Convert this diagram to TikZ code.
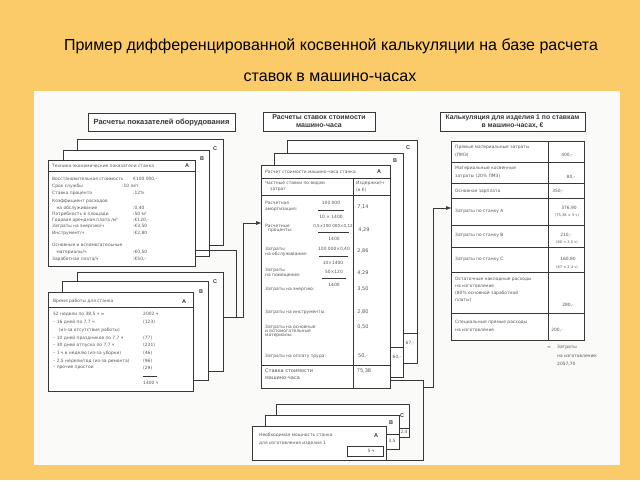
\documentclass[tikz,border=0pt]{standalone}
\usepackage{fontspec}
\setmainfont{Liberation Sans}
\newfontfamily\scanfont{DejaVu Sans}
\usetikzlibrary{arrows.meta}
\definecolor{bgor}{RGB}{251,203,106}
\definecolor{paper}{RGB}{250,250,248}
\definecolor{ink}{RGB}{55,55,55}
\definecolor{txt}{RGB}{85,85,85}
\newcommand{\myfs}[1]{\fontsize{#1}{#1}\selectfont}
\begin{document}
\begin{tikzpicture}[x=1pt,y=-1pt,
  card/.style={draw=ink, fill=white, line width=0.55pt, anchor=north west, inner sep=0pt, outer sep=0pt},
  tl/.style={anchor=west, inner sep=0pt, text=txt, font=\scanfont\myfs{4.4}},
  tm/.style={anchor=center, inner sep=0pt, text=txt, font=\scanfont\myfs{4.4}},
  big/.style={font=\scanfont\myfs{5}},
  lbl/.style={anchor=center, inner sep=0pt, font=\bfseries\myfs{5.5}, text=ink},
  hbox/.style={draw=ink, fill=white, line width=0.55pt, inner sep=0pt, outer sep=0pt, anchor=north west, align=center, font=\bfseries\fontsize{6.8}{8}\selectfont, text=ink},
  rule/.style={draw=ink, line width=0.5pt},
  wire/.style={draw=ink, line width=0.55pt},
  arr/.style={wire, -{Triangle[length=5pt,width=3.6pt]}}
]
\useasboundingbox (0,0) rectangle (640,480);
\fill[bgor] (0,0) rectangle (640,480);
\fill[paper] (34,91) rectangle (620,465);

% title
\node[font=\myfs{16}, inner sep=0pt] (title1) at (331,46) {Пример дифференцированной косвенной калькуляции на базе расчета};
\node[font=\myfs{16}, inner sep=0pt] (title2) at (330,77) {ставок в машино-часах};

% header boxes
\node[hbox, minimum width=147pt, minimum height=18pt, font=\bfseries\myfs{7.5}] (h1) at (88,113) {Расчеты показателей оборудования};
\node[hbox, minimum width=112pt, minimum height=19pt, font=\bfseries\fontsize{7}{8}\selectfont] (h2) at (263,112) {Расчеты ставок стоимости\\машино-часа};
\node[hbox, minimum width=145pt, minimum height=19pt] (h3) at (440,112) {Калькуляция для изделия 1 по ставкам\\в машино-часах, €};

% ---------- stack 1 ----------
\node[card, minimum width=146pt, minimum height=106pt] (s1c) at (77,139) {};
\node[lbl] (s1cl) at (215,149) {C};
\node[card, minimum width=146pt, minimum height=106pt] (s1b) at (63,150) {};
\node[lbl] (s1bl) at (202,159) {B};
\node[card, minimum width=147pt, minimum height=106pt] (s1a) at (48,160) {};
\node[lbl] (s1al) at (187,166) {A};
\draw[rule] (48,171) -- (195,171);
\node[tl] (s1h) at (52,166) {Технико-экономические показатели станка};
\foreach \y/\l/\x/\v [count=\i] in {
  179/{Восстановительная стоимость}/133/{€100 000,-},
  186/{Срок службы}/122/{:10 лет},
  193/{Ставка процента}/133/{:12\%},
  201/{Коэффициент расходов}/133/{},
  208/{\quad на обслуживание}/133/{:0,40},
  214/{Потребность в площади}/133/{:50 м²},
  220/{Годовая арендная плата /м²}/133/{:€120,-},
  226/{Затраты на энергию/ч}/133/{:€3,50},
  233/{Инструмент/ч}/133/{:€2,80},
  245/{Основные и вспомогательные}/133/{},
  252/{\quad материалы/ч}/133/{:€0,50},
  259/{Заработная плата/ч}/133/{:€50,-}}
{
  \node[tl] (s1l\i) at (52,\y) {\l};
  \node[tl] (s1v\i) at (\x,\y) {\v};
}

% ---------- stack 2 ----------
\node[card, minimum width=146pt, minimum height=99pt] (s2c) at (77,272) {};
\node[lbl] (s2cl) at (215,282) {C};
\node[card, minimum width=146pt, minimum height=99pt] (s2b) at (62,281) {};
\node[lbl] (s2bl) at (201,292) {B};
\node[card, minimum width=145pt, minimum height=99pt] (s2a) at (48,292) {};
\node[lbl] (s2al) at (184,302) {A};
\draw[rule] (48,307) -- (193,307);
\node[tl] (s2h) at (53,301) {Время работы для станка};
\foreach \y/\l/\v [count=\i] in {
  314/{52 недели по 38,5 ч =}/{2002 ч},
  322/{–\ 16 дней по 7,7 ч}/{(123)},
  330/{\quad\ (из-за отсутствия работы)}/{},
  338/{–\ 10 дней праздников по 7,7 ч}/{(77)},
  345/{–\ 30 дней отпуска по 7,7 ч}/{(231)},
  353/{–\ 1 ч в неделю (из-за уборки)}/{(46)},
  361/{–\ 2,5 недели/год (из-за ремонта)}/{(96)},
  368/{–\ прочие простои}/{(29)}}
{
  \node[tl] (s2l\i) at (53,\y) {\l};
  \node[tl] (s2v\i) at (143,\y) {\v};
}
\draw[rule] (143,376) -- (157,376);
\node[tl] (s2tot) at (143,383) {1400 ч};

% ---------- middle stack ----------
\node[card, minimum width=130pt, minimum height=223pt] (mc) at (287,140) {};
\node[lbl] (mcl) at (408,148) {C};
\draw[rule] (403,333) -- (417,333);
\node[tm] (mc67) at (410,343) {67,-};
\node[card, minimum width=129pt, minimum height=224pt] (mb) at (274,153) {};
\node[lbl] (mbl) at (395,161) {B};
\draw[rule] (390,347) -- (403,347);
\node[tm] (mb60) at (397,357) {60,-};
\node[card, minimum width=129pt, minimum height=223pt] (ma) at (261,165) {};
\node[lbl] (mal) at (379,172) {A};
\node[tl] (mah) at (265,172) {Расчет стоимости машино-часа станка};
\draw[rule] (261,178) -- (390,178);
\draw[rule] (261,195) -- (390,195);
\draw[rule] (353,178) -- (353,388);
\draw[rule] (261,365) -- (390,365);
\node[tl] (mch1) at (265,183) {Частные ставки по видам};
\node[tl] (mch2) at (270,190) {затрат};
\node[tl] (mch3) at (356,183) {Издержки/ч};
\node[tl] (mch4) at (356,190) {(в €)};
% rows
\node[tl] (r1a) at (265,203) {Расчетная};
\node[tl] (r1b) at (265,210) {амортизация:};
\node[tm] (r1n) at (331,203) {100 000};
\draw[rule] (318,210) -- (344,210);
\node[tm] (r1d) at (331,217) {10 × 1400};
\node[tm, big] (r1v) at (363,207) {7,14};
\node[tl] (r2a) at (265,226) {Расчетные};
\node[tl] (r2b) at (268,231) {проценты:};
\node[tm, font=\scanfont\myfs{4.1}] (r2n) at (333,226) {0,5×100 000×0,12};
\draw[rule] (318,232) -- (349,232);
\node[tm] (r2d) at (334,239) {1400};
\node[tm, big] (r2v) at (364,230) {4,29};
\node[tl] (r3a) at (265,249) {Затраты};
\node[tl] (r3b) at (265,254) {на обслуживание:};
\node[tm] (r3n) at (334,249) {100 000×0,40};
\draw[rule] (319,256) -- (348,256);
\node[tm] (r3d) at (333,263) {10×1400};
\node[tm, big] (r3v) at (363,251) {2,86};
\node[tl] (r4a) at (265,270) {Затраты};
\node[tl] (r4b) at (265,276) {на помещение:};
\node[tm] (r4n) at (334,272) {50×120};
\draw[rule] (322,278) -- (346,278);
\node[tm] (r4d) at (334,285) {1400};
\node[tm, big] (r4v) at (363,273) {4,29};
\node[tl] (r5a) at (265,289) {Затраты на энергию:};
\node[tm, big] (r5v) at (363,289) {3,50};
\node[tl] (r6a) at (265,312) {Затраты на инструменты:};
\node[tm, big] (r6v) at (363,312) {2,80};
\node[tl] (r7a) at (265,327) {Затраты на основные};
\node[tl] (r7b) at (265,331.5) {и вспомогательные};
\node[tl] (r7c) at (265,336) {материалы:};
\node[tm, big] (r7v) at (363,327) {0,50};
\node[tl] (r8a) at (265,356) {Затраты на оплату труда:};
\node[tm, big] (r8v) at (363,356) {50,-};
\node[tl, big] (r9a) at (265,371) {Ставка стоимости};
\node[tl, big] (r9b) at (265,378) {машино-часа};
\node[tm, big] (r9v) at (364,371) {75,38};

% ---------- bottom small stack ----------
\node[card, minimum width=133pt, minimum height=33pt] (pc) at (276,404) {};
\node[lbl] (pcl) at (402,416) {C};
\draw[rule] (399,428) -- (409,428);
\node[tm] (pc24) at (404,432) {2,4};
\node[card, minimum width=134pt, minimum height=34pt] (pb) at (265,415) {};
\node[lbl] (pbl) at (391,423) {B};
\draw[rule] (386,434) -- (399,434);
\node[tm] (pb35) at (392,441) {3,5};
\node[card, minimum width=134pt, minimum height=34pt] (pa) at (252,426) {};
\node[lbl] (pal) at (376,436) {A};
\node[tl] (pat1) at (259,435) {Необходимая мощность станка};
\node[tl] (pat2) at (259,443) {для изготовления изделия 1};
\node[draw=ink, line width=0.5pt, anchor=north west, minimum width=36pt, minimum height=10pt, inner sep=0pt] (p5) at (347,446) {};
\node[tm] (p5t) at (371,451) {5 ч};

% ---------- right table ----------
\node[card, minimum width=133pt, minimum height=199pt] (tab) at (451,141) {};
\draw[rule] (548,141) -- (548,340);
\foreach \y in {162,183,198,225,247,272,313} { \draw[rule] (451,\y) -- (584,\y); }
\node[tl] (k1a) at (455,147) {Прямые материальные затраты};
\node[tl] (k1b) at (455,155) {(ПМЗ)};
\node[tm] (k1v) at (567,155) {400,-};
\node[tl] (k2a) at (455,168) {Материальные косвенные};
\node[tl] (k2b) at (455,176) {затраты (20\% ПМЗ)};
\node[tm] (k2v) at (571,177) {80,-};
\node[tl] (k3a) at (455,191) {Основная зарплата};
\node[tm] (k3v) at (558,191) {350,-};
\node[tl] (k4a) at (455,211) {Затраты по станку A};
\node[tm] (k4v) at (569,208) {376,90};
\node[tm, font=\scanfont\myfs{3.6}] (k4w) at (567,215) {(75,38 × 5 ч)};
\node[tl] (k5a) at (455,235) {Затраты по станку B};
\node[tm] (k5v) at (566,235) {210,-};
\node[tm, font=\scanfont\myfs{3.6}] (k5w) at (567,242) {(60 × 3,5 ч)};
\node[tl] (k6a) at (455,259) {Затраты по станку C};
\node[tm] (k6v) at (568,259) {160,80};
\node[tm, font=\scanfont\myfs{3.6}] (k6w) at (567,267) {(67 × 2,4 ч)};
\node[tl] (k7a) at (455,279) {Остаточные накладные расходы};
\node[tl] (k7b) at (455,286) {на изготовление};
\node[tl] (k7c) at (455,293) {(80\% основной заработной};
\node[tl] (k7d) at (455,300) {платы)};
\node[tm] (k7v) at (568,305) {280,-};
\node[tl] (k8a) at (455,322) {Специальные прямые расходы};
\node[tl] (k8b) at (455,330) {на изготовление};
\node[tm] (k8v) at (557,330) {200,-};
\node[tl] (s0) at (547,347) {=};
\node[tl] (s1) at (557,347) {Затраты};
\node[tl] (s2) at (557,356) {на изготовление:};
\node[tl] (s3) at (557,364) {2057,70};

% ---------- connectors ----------
\coordinate (lb1) at (236,250);
\coordinate (lb2) at (236,317);
\coordinate (lk1) at (243,317);
\coordinate (lk2) at (243,223);
\draw[wire] (s1a.east |- lb1) -- (lb1) -- (lb2) -- (s2c.east |- lb2);
\draw[arr] (lb2) -- (lk1) -- (lk2) -- (ma.west |- lk2);

\coordinate (rb1) at (423,380);
\coordinate (rb2) at (423,460);
\coordinate (rk0) at (423,387);
\coordinate (rk1) at (433,387);
\coordinate (rk2) at (433,208);
\draw[wire] (ma.east |- rb1) -- (rb1) -- (rb2) -- (pa.south east);
\draw[arr] (rk0) -- (rk1) -- (rk2) -- (tab.west |- rk2);
\end{tikzpicture}
\end{document}
